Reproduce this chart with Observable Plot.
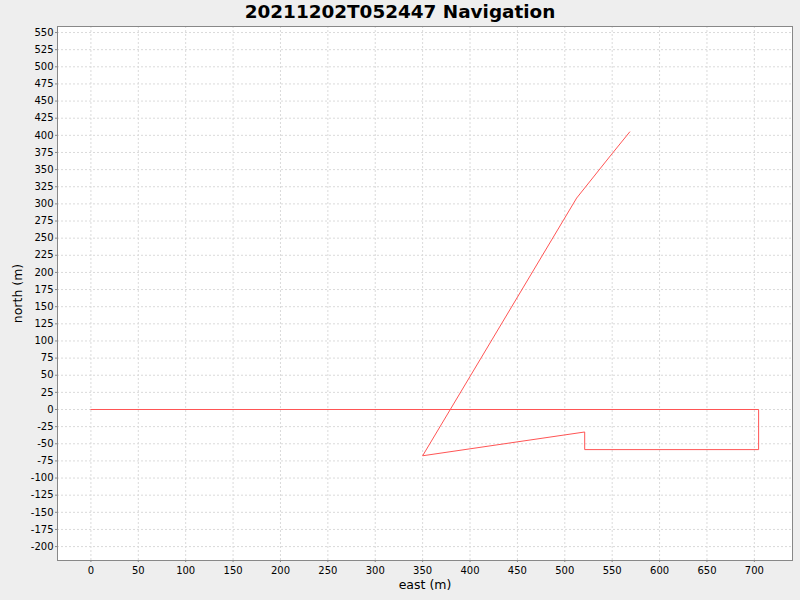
<!DOCTYPE html>
<html>
<head>
<meta charset="utf-8">
<script src="https://cdn.jsdelivr.net/npm/d3@7"></script>
<script src="https://cdn.jsdelivr.net/npm/@observablehq/plot@0.6"></script>
<style>
  html, body { margin: 0; padding: 0; background: #eeeeee; }
  #wrap { width: 800px; height: 600px; background: #eeeeee; }
  #title { height: 26px; line-height: 23px; text-align: center; font-family: "DejaVu Sans", sans-serif; font-weight: bold; font-size: 18.4px; color: #000; }
  svg { display: block; }
</style>
</head>
<body>
<div id="wrap">
  <div id="title">20211202T052447 Navigation</div>
  <div id="chart"></div>
</div>
<script>
const east  = [0, 704.5, 704.5, 521, 521, 350, 512.5, 548, 568.5];
const north = [0, 0, -58.5, -58.5, -32.8, -67.5, 308.5, 370, 405];
const xTicks = [0, 50, 100, 150, 200, 250, 300, 350, 400, 450, 500, 550, 600, 650, 700];
const yTicks = [-200, -175, -150, -125, -100, -75, -50, -25, 0, 25, 50, 75, 100, 125, 150, 175, 200, 225, 250, 275, 300, 325, 350, 375, 400, 425, 450, 475, 500, 525, 550];

const track = east.map((e, i) => ({east: e, north: north[i]}));
const fmt = d => String(d);

const chart = Plot.plot({
  width: 800,
  height: 574,
  marginTop: 0,
  marginBottom: 40,
  marginLeft: 57,
  marginRight: 8,
  style: {fontFamily: "DejaVu Sans, sans-serif", fontSize: "10px", background: "#eeeeee", color: "#000"},
  x: {domain: [-35.25, 740.25]},
  y: {domain: [-220.3, 558.8]},
  marks: [
    Plot.frame({fill: "white", stroke: null}),
    Plot.gridX(xTicks, {stroke: "#dadada", strokeOpacity: 1, strokeDasharray: "2,2"}),
    Plot.gridY(yTicks, {stroke: "#dadada", strokeOpacity: 1, strokeDasharray: "2,2"}),
    Plot.axisX(xTicks, {tickSize: 2, tickPadding: 4, stroke: "#888", tickFormat: fmt, label: "east (m)", labelAnchor: "center", labelArrow: "none", labelOffset: 28, fontSize: 10}),
    Plot.axisY(yTicks, {tickSize: 2, tickPadding: 2, stroke: "#888", tickFormat: fmt, label: "north (m)", labelAnchor: "center", labelArrow: "none", labelOffset: 44, fontSize: 10}),
    Plot.line(track, {x: "east", y: "north", stroke: "#ff5555", strokeWidth: 1}),
    Plot.frame({stroke: "#888", strokeWidth: 1})
  ]
});
document.getElementById("chart").appendChild(chart);
chart.querySelectorAll("[aria-label='x-axis label'] text, [aria-label='y-axis label'] text").forEach(t => t.setAttribute("font-size", "12.5px"));
</script>
</body>
</html>
